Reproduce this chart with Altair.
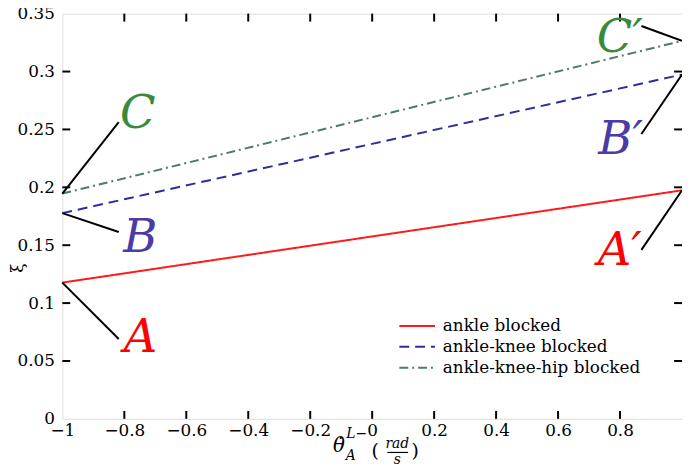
import altair as alt
import pandas as pd

# ---------------- data ----------------
series = ["ankle blocked", "ankle-knee blocked", "ankle-knee-hip blocked"]
x_ends = [-1.0, 1.0]
xi_ankle = [0.1177, 0.1974]
xi_knee = [0.1777, 0.2974]
xi_hip = [0.1946, 0.3265]

x_ticks = [-1, -0.8, -0.6, -0.4, -0.2, 0, 0.2, 0.4, 0.6, 0.8]
y_ticks = [0, 0.05, 0.1, 0.15, 0.2, 0.25, 0.3, 0.35]
inner_x_ticks = [-0.8, -0.6, -0.4, -0.2, 0, 0.2, 0.4, 0.6, 0.8]
inner_y_ticks = [0.05, 0.1, 0.15, 0.2, 0.25, 0.3]

line_colors = ["#FF1A1A", "#2E2E96", "#4E7C62"]
dashes = [[1, 0], [10, 6], [9, 4, 2, 4]]

FONT = "DejaVu Serif"

# ---------------- tables ----------------
rows = []
for name, vals in zip(series, [xi_ankle, xi_knee, xi_hip]):
    for xv, yv in zip(x_ends, vals):
        rows.append({"series": name, "x": xv, "xi": yv})
lines_df = pd.DataFrame(rows)

color_scale = alt.Scale(domain=series, range=line_colors)
dash_scale = alt.Scale(domain=series, range=dashes)
xs = alt.Scale(domain=[-1, 1], nice=False, zero=False)
ys = alt.Scale(domain=[0, 0.35], nice=False, zero=False)

base_x = alt.X(
    "x:Q", scale=xs, title=None,
    axis=alt.Axis(values=x_ticks, format="~g", ticks=False, tickSize=0, domain=False,
                  grid=False, labelFont=FONT, labelFontSize=17, labelColor="black",
                  labelPadding=4, labelFlush=False, labelOverlap=False),
)
base_y = alt.Y(
    "xi:Q", scale=ys, title="ξ",
    axis=alt.Axis(values=y_ticks, format="~g", ticks=False, tickSize=0, domain=False,
                  grid=False, labelFont=FONT, labelFontSize=17, labelColor="black",
                  labelPadding=8, labelOverlap=False, labelFlush=False,
                  titleFont=FONT, titleFontSize=17, titleFontWeight="normal",
                  titleColor="black", titleX=-45, titleY=257,
                  titleAlign="center", titleBaseline="middle"),
)

lines = alt.Chart(lines_df).mark_line(strokeWidth=2).encode(
    x=base_x, y=base_y,
    color=alt.Color("series:N", scale=color_scale, legend=None),
    strokeDash=alt.StrokeDash("series:N", scale=dash_scale, legend=None),
    detail="series:N",
)

# inward ticks on all four sides
tx = 8 / 313.5
ty = 8 / 1171.4
tick_rows = []
for v in inner_x_ticks:
    tick_rows.append({"x": v, "xi": 0.0, "x2": v, "xi2": ty})
    tick_rows.append({"x": v, "xi": 0.35, "x2": v, "xi2": 0.35 - ty})
for v in inner_y_ticks:
    tick_rows.append({"x": -1.0, "xi": v, "x2": -1.0 + tx, "xi2": v})
    tick_rows.append({"x": 1.0, "xi": v, "x2": 1.0 - tx, "xi2": v})
ticks = alt.Chart(pd.DataFrame(tick_rows)).mark_rule(color="black", strokeWidth=2).encode(
    x=alt.X("x:Q", scale=xs), y=alt.Y("xi:Q", scale=ys), x2="x2:Q", y2="xi2:Q"
)

# annotation pointers and letters
ptr_df = pd.DataFrame({
    "x": [-1.0, -1.0, -1.0, 1.0, 1.0, 0.869],
    "xi": [0.1177, 0.1777, 0.1946, 0.1974, 0.2974, 0.3393],
    "x2": [-0.818, -0.818, -0.818, 0.869, 0.869, 1.0],
    "xi2": [0.069, 0.1614, 0.2564, 0.146, 0.246, 0.3265],
})
pointers = alt.Chart(ptr_df).mark_rule(color="black", strokeWidth=2).encode(
    x=alt.X("x:Q", scale=xs), y=alt.Y("xi:Q", scale=ys), x2="x2:Q", y2="xi2:Q"
)

lab_df = pd.DataFrame({
    "label": ["A", "B", "C", "A′", "B′", "C′"],
    "x": [-0.748, -0.748, -0.757, 0.799, 0.802, 0.799],
    "xi": [0.0579, 0.1443, 0.2512, 0.1332, 0.229, 0.3171],
    "col": ["#FF0000", "#4B3BA6", "#3B8A3B", "#FF0000", "#4B3BA6", "#3B8A3B"],
})
letters = alt.Chart(lab_df).mark_text(
    font=FONT, fontSize=47, fontStyle="italic", align="center", baseline="alphabetic"
).encode(
    x=alt.X("x:Q", scale=xs), y=alt.Y("xi:Q", scale=ys),
    text="label:N", color=alt.Color("col:N", scale=None),
)

# legend drawn inside the plot
leg_df = pd.DataFrame({
    "series": series,
    "x": [0.0877] * 3, "x2": [0.2026] * 3, "xt": [0.228] * 3,
    "xi": [0.0802, 0.0622, 0.0442],
})
leg_lines = alt.Chart(leg_df).mark_rule(strokeWidth=2).encode(
    x=alt.X("x:Q", scale=xs), x2="x2:Q", y=alt.Y("xi:Q", scale=ys),
    color=alt.Color("series:N", scale=color_scale, legend=None),
    strokeDash=alt.StrokeDash("series:N", scale=dash_scale, legend=None),
)
leg_text = alt.Chart(leg_df).mark_text(
    font=FONT, fontSize=17, align="left", baseline="middle", color="black"
).encode(x=alt.X("xt:Q", scale=xs), y=alt.Y("xi:Q", scale=ys), text="series:N")

# x-axis title built from pieces: theta-dot_A^{L-} (rad/s)
it_df = pd.DataFrame({
    "t": ["θ̇", "L−", "A", "rad", "s"],
    "x": [-0.107, -0.050, -0.069, 0.081, 0.081],
    "py": [438, 425, 448, 435, 452],
    "fs": [20, 14, 14, 14, 14],
})
title_it = alt.Chart(it_df).mark_text(
    font=FONT, fontStyle="italic", align="center", baseline="middle", color="black"
).encode(
    x=alt.X("x:Q", scale=xs), y=alt.Y("py:Q", scale=None),
    text="t:N", size=alt.Size("fs:Q", scale=None),
)
up_df = pd.DataFrame({"t": ["(", ")"], "x": [0.010, 0.139], "py": [443, 443]})
title_up = alt.Chart(up_df).mark_text(
    font=FONT, fontSize=19, align="center", baseline="middle", color="black"
).encode(x=alt.X("x:Q", scale=xs), y=alt.Y("py:Q", scale=None), text="t:N")
bar_df = pd.DataFrame({"x": [0.049], "x2": [0.116], "py": [444]})
title_bar = alt.Chart(bar_df).mark_rule(color="black", strokeWidth=1.2).encode(
    x=alt.X("x:Q", scale=xs), x2="x2:Q", y=alt.Y("py:Q", scale=None)
)

chart = alt.layer(
    lines, ticks, pointers, letters, leg_lines, leg_text, title_it, title_up, title_bar
).properties(
    width=627, height=410,
    autosize=alt.AutoSizeParams(type="none"),
    padding={"left": 55, "top": 3, "right": 0, "bottom": 47},
).configure_view(stroke="black", strokeWidth=2.5).configure(background="white")

chart.save("out.html", embed_options={"renderer": "svg", "actions": False})
